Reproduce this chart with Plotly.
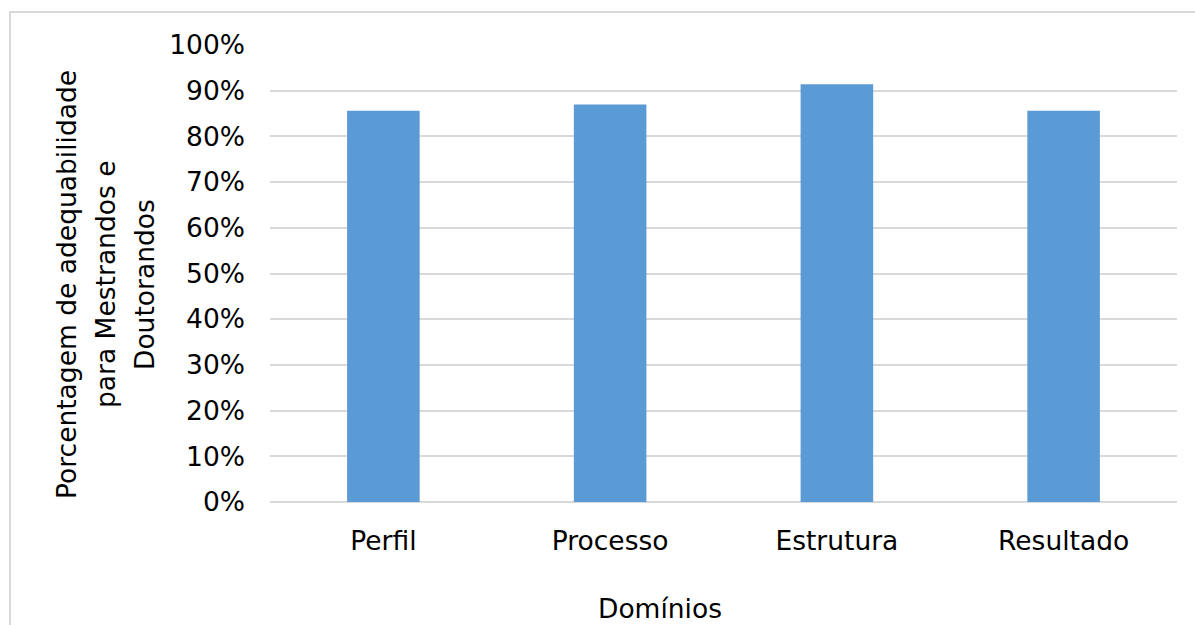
import plotly.graph_objects as go

categories = ["Perfil", "Processo", "Estrutura", "Resultado"]
values = [0.856, 0.870, 0.914, 0.856]
tick_vals = [0, 0.1, 0.2, 0.3, 0.4, 0.5, 0.6, 0.7, 0.8, 0.9, 1.0]
y_title_lines = ["Porcentagem de adequabilidade", "para Mestrandos e", "Doutorandos"]
x_title = "Domínios"

FONT = "DejaVu Sans"
FS = 26.5
L, R, T, B = 270, 18, 45, 123
W, H = 1195, 625
pw = W - L - R
ph = H - T - B


def px_x(x):
    return (x - L) / pw


def px_y(y):
    return (H - B - y) / ph


fig = go.Figure()
fig.add_trace(go.Bar(
    x=categories, y=values,
    marker=dict(color="#5B9BD5", line=dict(width=0)),
    width=0.32,
))

annotations = []
for i, line in enumerate(y_title_lines):
    annotations.append(dict(
        text=line, xref="paper", yref="paper",
        x=px_x(66 + 39 * i), y=px_y(285),
        xanchor="center", yanchor="middle", textangle=-90,
        showarrow=False, font=dict(size=FS, family=FONT, color="#000000"),
    ))
annotations.append(dict(
    text=x_title, xref="paper", yref="paper",
    x=px_x(660), y=px_y(608),
    xanchor="center", yanchor="middle",
    showarrow=False, font=dict(size=FS, family=FONT, color="#000000"),
))

fig.update_layout(
    width=W, height=H,
    margin=dict(l=L, r=R, t=T, b=B),
    paper_bgcolor="white", plot_bgcolor="white",
    font=dict(family=FONT, size=FS, color="#000000"),
    showlegend=False,
    xaxis=dict(
        showgrid=False, showline=False, zeroline=False,
        tickfont=dict(size=FS, family=FONT),
        ticklabelstandoff=20,
    ),
    yaxis=dict(
        range=[0, 1], tickvals=tick_vals, tickformat=".0%",
        showgrid=True, gridcolor="#D9D9D9", gridwidth=1.5,
        zeroline=True, zerolinecolor="#D9D9D9", zerolinewidth=1.5,
        showline=False,
        tickfont=dict(size=FS, family=FONT),
        ticklabelstandoff=24,
    ),
    annotations=annotations,
    shapes=[dict(
        type="rect", xref="paper", yref="paper",
        x0=px_x(10), x1=px_x(W + 10),
        y0=px_y(H + 10), y1=px_y(12),
        line=dict(color="#D9D9D9", width=2), fillcolor="rgba(0,0,0,0)",
        layer="below",
    )],
)

fig.write_html("out.html")
